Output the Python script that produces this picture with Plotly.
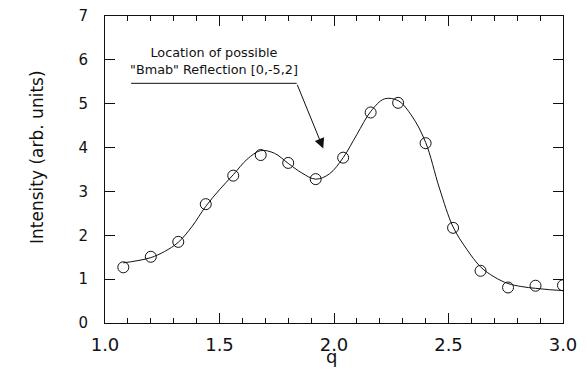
import plotly.graph_objects as go

# measured data points (open circles)
q_data = [1.08, 1.20, 1.32, 1.44, 1.56, 1.68, 1.80, 1.92, 2.04, 2.16, 2.28, 2.40,
          2.52, 2.64, 2.76, 2.88, 3.00]
i_data = [1.27, 1.51, 1.85, 2.71, 3.36, 3.83, 3.65, 3.28, 3.77, 4.80, 5.02, 4.10,
          2.17, 1.19, 0.81, 0.85, 0.86]

# fitted curve
q_fit = [1.08, 1.14, 1.20, 1.26, 1.32, 1.38, 1.44, 1.50, 1.56, 1.62, 1.68, 1.74,
         1.80, 1.86, 1.92, 1.98, 2.04, 2.10, 2.16, 2.22, 2.28, 2.34, 2.40, 2.46,
         2.52, 2.58, 2.64, 2.70, 2.76, 2.82, 2.88, 2.94, 3.00]
i_fit = [1.37, 1.42, 1.49, 1.63, 1.84, 2.20, 2.66, 3.04, 3.38, 3.73, 3.93, 3.87,
         3.64, 3.42, 3.28, 3.40, 3.77, 4.30, 4.82, 5.11, 5.07, 4.72, 4.12, 3.08,
         2.19, 1.68, 1.28, 1.05, 0.90, 0.83, 0.79, 0.76, 0.74]

x_range = [1.0, 3.0]
y_range = [0, 7]
x_ticks = [1.0, 1.5, 2.0, 2.5, 3.0]
x_tick_labels = ["1.0", "1.5", "2.0", "2.5", "3.0"]
y_ticks = [0, 1, 2, 3, 4, 5, 6, 7]
y_tick_labels = ["0", "1", "2", "3", "4", "5", "6", "7"]

note_text = 'Location of possible<br>"Bmab" Reflection [0,-5,2]'
note_pos = (1.476, 5.985)
leader_start = (1.114, 5.465)
leader_end = (1.837, 5.465)
arrow_tip = (1.953, 3.98)

FONT = "DejaVu Sans"
INK = "#111111"
CLEAR = "rgba(0,0,0,0)"

fig = go.Figure()
fig.add_trace(go.Scatter(x=q_fit, y=i_fit, mode="lines", line_shape="spline",
                         line=dict(color=INK, width=1), hoverinfo="skip",
                         showlegend=False))
fig.add_trace(go.Scatter(x=q_data, y=i_data, mode="markers",
                         marker=dict(symbol="circle-open", size=11,
                                     line=dict(color=INK, width=1), color=INK),
                         showlegend=False))
# invisible trace that anchors the label-only axes
fig.add_trace(go.Scatter(x=x_range, y=y_range, xaxis="x2", yaxis="y2",
                         mode="markers", marker=dict(opacity=0), hoverinfo="skip",
                         showlegend=False))

fig.add_shape(type="line", x0=leader_start[0], y0=leader_start[1],
              x1=leader_end[0], y1=leader_end[1], xref="x", yref="y",
              line=dict(color=INK, width=1))
fig.add_annotation(x=arrow_tip[0], y=arrow_tip[1], ax=leader_end[0], ay=leader_end[1],
                   xref="x", yref="y", axref="x", ayref="y", text="",
                   showarrow=True, arrowhead=2, arrowsize=2, arrowwidth=1,
                   arrowcolor=INK, standoff=0)
fig.add_annotation(x=note_pos[0], y=note_pos[1], xref="x", yref="y",
                   text=note_text, showarrow=False, align="center",
                   font=dict(family=FONT, size=12.8, color=INK))

# axis titles as annotations
fig.add_annotation(x=-0.176, y=0.539, xref="paper", yref="paper",
                   text="Intensity (arb. units)", textangle=-90, showarrow=False,
                   font=dict(family=FONT, size=17, color=INK))
fig.add_annotation(x=0.495, y=-0.07, xref="paper", yref="paper", yanchor="top",
                   text="q", showarrow=False,
                   font=dict(family=FONT, size=18, color=INK))

frame = dict(showline=True, linecolor=INK, linewidth=1, mirror="ticks",
             showgrid=False, zeroline=False, showticklabels=False,
             ticks="inside", ticklen=10, tickwidth=1, tickcolor=INK,
             automargin=False)

layout_axes = dict(
    xaxis=dict(range=x_range, tickvals=x_ticks,
               minor=dict(dtick=0.1, ticks="inside", ticklen=5, tickwidth=1,
                          tickcolor=INK, showgrid=False),
               **frame),
    yaxis=dict(range=y_range, tickvals=y_ticks, **frame),
    xaxis2=dict(range=x_range, tickvals=x_ticks, ticktext=x_tick_labels,
                overlaying="x", anchor="y2", side="bottom",
                ticks="outside", ticklen=5, tickcolor=CLEAR,
                showline=False, showgrid=False, zeroline=False,
                ticklabeloverflow="allow", automargin=False,
                tickfont=dict(family=FONT, size=18, color=INK)),
    yaxis2=dict(range=y_range, tickvals=y_ticks, ticktext=y_tick_labels,
                overlaying="y", anchor="x2", side="left",
                ticks="outside", ticklen=13, tickcolor=CLEAR,
                showline=False, showgrid=False, zeroline=False,
                ticklabeloverflow="allow", automargin=False,
                tickfont=dict(family=FONT, size=15, color=INK)),
)

fig.update_layout(width=579, height=367,
                  margin=dict(l=97, r=24, t=8, b=52, autoexpand=False),
                  plot_bgcolor="white", paper_bgcolor="white",
                  showlegend=False, **layout_axes)

fig.write_html("out.html")
